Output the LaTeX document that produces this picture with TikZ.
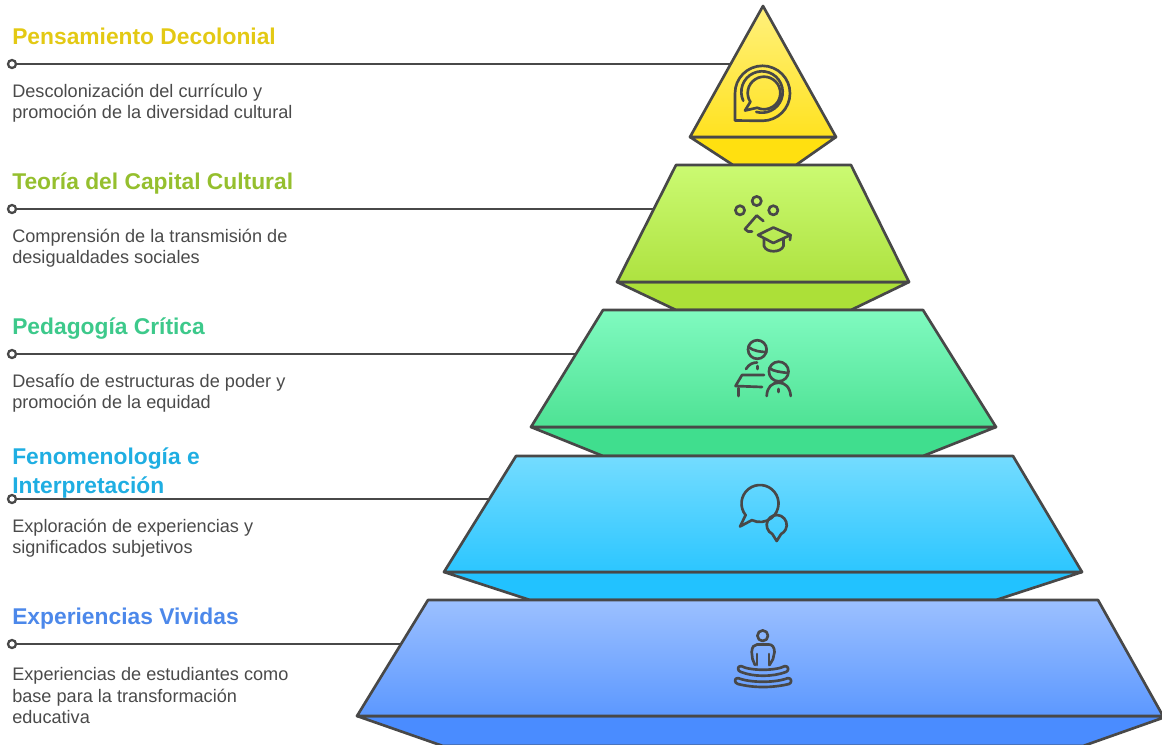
\documentclass[tikz,border=0pt]{standalone}
\usepackage{fontspec}
\setmainfont{Liberation Sans}
\definecolor{ink}{HTML}{484848}
\definecolor{txt}{HTML}{4A4A4A}
\definecolor{tA}{HTML}{E3C914}
\definecolor{tB}{HTML}{95BF2E}
\definecolor{tC}{HTML}{3DC98B}
\definecolor{tD}{HTML}{1FAEE2}
\definecolor{tE}{HTML}{4C88EA}
\definecolor{aT}{HTML}{FFF17D}\definecolor{aB}{HTML}{FFE220}\definecolor{aL}{HTML}{FFE010}
\definecolor{bT}{HTML}{CBFA72}\definecolor{bB}{HTML}{AEE240}\definecolor{bL}{HTML}{ACE038}
\definecolor{cT}{HTML}{80FAC0}\definecolor{cB}{HTML}{4EE294}\definecolor{cL}{HTML}{40DE8E}
\definecolor{dT}{HTML}{74DCFF}\definecolor{dB}{HTML}{2CC6FF}\definecolor{dL}{HTML}{22C2FF}
\definecolor{eT}{HTML}{9CC0FF}\definecolor{eB}{HTML}{5C98FF}\definecolor{eL}{HTML}{4A8CFF}
\tikzset{
  x=0.75pt,y=-0.75pt,
  tier/.style={draw=ink,line width=2pt,line join=round},
  icon/.style={draw=ink,line width=2pt,line cap=round,line join=round},
  lead/.style={draw=ink,line width=1.8pt},
  dot/.style={circle,draw=ink,line width=1.7pt,fill=white,inner sep=0pt,minimum size=6pt},
  head/.style={anchor=base west,inner sep=0pt,font=\fontsize{17.1}{17.1}\selectfont\bfseries},
  body/.style={anchor=base west,inner sep=0pt,text=txt,font=\fontsize{13.6}{13.6}\selectfont},
}
\begin{document}
\begin{tikzpicture}
\useasboundingbox (0,0) rectangle (1162,744);
\clip (0,0) rectangle (1162,744);
% connectors
\coordinate (e1) at (730,64);
\coordinate (e2) at (656,209);
\coordinate (e3) at (582,354);
\coordinate (e4) at (492,499);
\coordinate (e5) at (404,644);
\node[dot] (d1) at (12,64) {};
\node[dot] (d2) at (12,209) {};
\node[dot] (d3) at (12,354) {};
\node[dot] (d4) at (12,499) {};
\node[dot] (d5) at (12,644) {};
\draw[lead] (d1) -- (e1);
\draw[lead] (d2) -- (e2);
\draw[lead] (d3) -- (e3);
\draw[lead] (d4) -- (e4);
\draw[lead] (d5) -- (e5);
% tier 1
\path[tier,fill=aL] (690,137) -- (733,165) -- (796,165) -- (836,137) -- cycle;
\draw[tier,top color=aT,bottom color=aB] (763,6) -- (836,137) -- (690,137) -- cycle;
% tier 2
\path[tier,fill=bL] (617,282) -- (676,310) -- (851,310) -- (909,282) -- cycle;
\draw[tier,top color=bT,bottom color=bB] (676,165) -- (851,165) -- (909,282) -- (617,282) -- cycle;
% tier 3
\path[tier,fill=cL] (531,427) -- (603,456) -- (923,456) -- (996,427) -- cycle;
\draw[tier,top color=cT,bottom color=cB] (603,310) -- (923,310) -- (996,427) -- (531,427) -- cycle;
% tier 4
\path[tier,fill=dL] (444,572) -- (530,600) -- (996,600) -- (1082,572) -- cycle;
\draw[tier,top color=dT,bottom color=dB] (516,456) -- (1013,456) -- (1082,572) -- (444,572) -- cycle;
% tier 5
\path[tier,fill=eL] (357,716) -- (443,746) -- (1083,746) -- (1168,716) -- cycle;
\draw[tier,top color=eT,bottom color=eB] (428,600) -- (1098,600) -- (1163,716) -- (357,716) -- cycle;
% icon 1
\draw[icon] (735,120.5) -- (735,93.3) arc[start angle=-180,end angle=90,radius=27.5] -- cycle;
\draw[icon] ([shift={(155:20.7)}]762,92) arc[start angle=155,end angle=466,radius=20.7];
\draw[icon] (745,110.5) -- ([shift={(147:16.3)}]764,93) arc[start angle=147,end angle=475,radius=16.3] -- cycle;
% icon 2
\draw[icon] (756.7,201) circle[radius=4.6];
\draw[icon] (740,210.3) circle[radius=4.6];
\draw[icon] (773.3,210.3) circle[radius=4.6];
\draw[icon] (763.3,221) -- (756.7,215.5) -- (745,229) -- (748,231.5) -- (752,231.5);
\draw[icon] (758,235) -- (773.3,227.5) -- (790.5,235) -- (773.3,243) -- cycle;
\draw[icon] (790.5,235) -- (790,240);
\draw[icon] (764,238.5) -- (764,246) .. controls (766,253) and (781,253) .. (783.5,246) -- (783.5,238.5);
% icon 3
\draw[icon] (757.3,349.5) circle[radius=9.3];
\draw[icon] (748.5,347) .. controls (753,351) and (761,352) .. (766.5,352);
\draw[icon] (746,369) .. controls (749,364) and (753,362.5) .. (757,362.5);
\draw[icon] (757.3,366) -- (757.3,369);
\draw[icon] (764,375) -- (742,375) -- (735.5,386) -- (762,387);
\draw[icon] (738.5,388) -- (738.5,396);
\draw[icon] (778.7,371.5) circle[radius=9.8];
\draw[icon] (769.5,368) .. controls (773,371.5) and (781,372) .. (788,373);
\draw[icon] (766.7,396) .. controls (767,387) and (772,382.7) .. (778.7,382.7) .. controls (785,382.7) and (790,387) .. (790.7,396);
\draw[icon] (778.7,389) -- (778.7,392);
% icon 4
\draw[icon] (740,526.5) -- ([shift={(-219:18.5)}]760,503.5) arc[start angle=-219,end angle=116,radius=18.5] -- cycle;
\draw[icon] (776.7,541) -- ([shift={(116:10)}]776.7,525) arc[start angle=116,end angle=424,radius=10] -- cycle;
% icon 5
\draw[icon] (762.7,635.7) circle[radius=5.3];
\draw[icon] (755,665) -- (752.5,659) -- (751.7,652) .. controls (752,647) and (754,644.5) .. (757,644.5) -- (769,644.5) .. controls (772,644.5) and (774.5,647) .. (774.5,652) -- (773,659) -- (769.5,665);
\draw[icon] (757,654) -- (757,665);
\draw[icon] (769,654) -- (769,665);
\draw[icon] (741,666) .. controls (750,671) and (776,671) .. (785,666) .. controls (789,666) and (789,671) .. (786,672) .. controls (772,677) and (754,677) .. (741,672) .. controls (737,671) and (737,666) .. (741,666) -- cycle;
\draw[icon] (738,678) .. controls (750,683) and (776,683) .. (788,678) .. controls (792,678) and (792,683) .. (789,684) .. controls (772,688) and (754,688) .. (738,684) .. controls (734,683) and (734,678) .. (738,678) -- cycle;
% text
\node[head,text=tA] (h1) at (12,44) {Pensamiento Decolonial};
\node[body] (b1a) at (12,97) {Descolonización del currículo y};
\node[body] (b1b) at (12,118) {promoción de la diversidad cultural};
\node[head,text=tB] (h2) at (12,189) {Teoría del Capital Cultural};
\node[body] (b2a) at (12,242) {Comprensión de la transmisión de};
\node[body] (b2b) at (12,263) {desigualdades sociales};
\node[head,text=tC] (h3) at (12,334) {Pedagogía Crítica};
\node[body] (b3a) at (12,387) {Desafío de estructuras de poder y};
\node[body] (b3b) at (12,408) {promoción de la equidad};
\node[head,text=tD] (h4a) at (12,464) {Fenomenología e};
\node[head,text=tD] (h4b) at (12,493) {Interpretación};
\node[body] (b4a) at (12,532) {Exploración de experiencias y};
\node[body] (b4b) at (12,553) {significados subjetivos};
\node[head,text=tE] (h5) at (12,624) {Experiencias Vividas};
\node[body] (b5a) at (12,680) {Experiencias de estudiantes como};
\node[body] (b5b) at (12,702) {base para la transformación};
\node[body] (b5c) at (12,723) {educativa};
\end{tikzpicture}
\end{document}
